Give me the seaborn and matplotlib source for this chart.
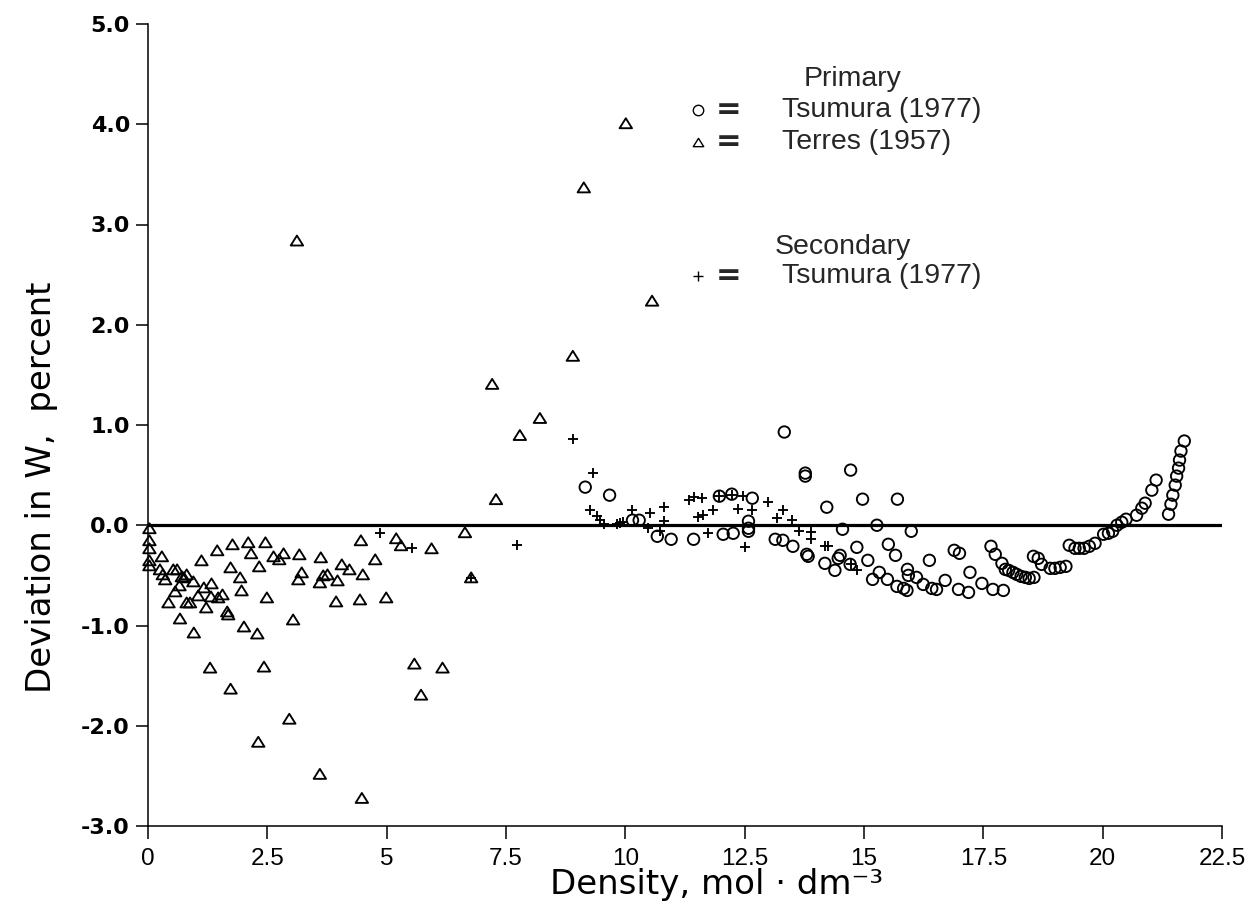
import matplotlib
matplotlib.use("Agg")
import matplotlib.pyplot as plt
from matplotlib.lines import Line2D
from matplotlib.path import Path
import seaborn as sns

# Primary data: Tsumura (1977)
tsumura_x = [9.16, 9.67, 10.15, 10.29, 10.67, 10.96, 11.43, 12.05, 12.26, 11.97,
             12.23, 12.66, 12.58, 12.58, 12.58, 13.33, 13.77, 13.77, 13.14, 13.30,
             13.51, 13.80, 13.83, 14.72, 14.22, 14.97, 15.70, 15.27, 14.55, 15.99,
             14.18, 14.39, 14.50, 14.46, 14.85, 15.08, 14.71, 15.18, 15.32, 15.49,
             15.51, 15.66, 15.69, 15.83, 15.90, 15.91, 15.93, 16.10, 16.24, 16.37,
             16.42, 16.52, 16.70, 16.89, 17.00, 16.98, 17.19, 17.22, 17.47, 17.66,
             17.75, 17.70, 17.92, 17.89, 17.96, 18.03, 18.12, 18.20, 18.29, 18.38,
             18.46, 18.56, 18.55, 18.65, 18.72, 18.90, 19.00, 19.11, 19.23, 19.30,
             19.42, 19.51, 19.61, 19.72, 19.84, 20.02, 20.12, 20.21, 20.30, 20.40,
             20.49, 20.71, 20.82, 20.89, 21.03, 21.12, 21.38, 21.43, 21.47, 21.52,
             21.55, 21.59, 21.61, 21.64, 21.71]
tsumura_y = [0.38, 0.30, 0.05, 0.05, -0.11, -0.14, -0.14, -0.09, -0.08, 0.29,
             0.31, 0.27, 0.04, -0.03, -0.06, 0.93, 0.52, 0.49, -0.14, -0.15,
             -0.21, -0.29, -0.31, 0.55, 0.18, 0.26, 0.26, 0.00, -0.04, -0.06,
             -0.38, -0.45, -0.30, -0.33, -0.22, -0.35, -0.39, -0.54, -0.47, -0.54,
             -0.19, -0.30, -0.61, -0.63, -0.65, -0.44, -0.50, -0.52, -0.59, -0.35,
             -0.63, -0.64, -0.55, -0.25, -0.28, -0.64, -0.67, -0.47, -0.58, -0.21,
             -0.29, -0.64, -0.65, -0.38, -0.44, -0.45, -0.47, -0.49, -0.51, -0.52,
             -0.53, -0.52, -0.31, -0.33, -0.39, -0.43, -0.43, -0.42, -0.41, -0.20,
             -0.23, -0.23, -0.23, -0.21, -0.18, -0.09, -0.08, -0.06, 0.00, 0.03,
             0.06, 0.10, 0.17, 0.22, 0.35, 0.45, 0.11, 0.21, 0.30, 0.40,
             0.49, 0.57, 0.65, 0.74, 0.84]

# Primary data: Terres (1957)
terres_x = [0.03, 0.03, 0.03, 0.03, 0.03, 0.29, 0.25, 0.31, 0.36, 0.53,
            0.61, 0.71, 0.81, 0.75, 0.95, 1.12, 0.66, 0.57, 0.43, 0.81,
            0.88, 0.67, 0.96, 1.17, 1.05, 1.33, 1.32, 1.22, 1.45, 1.47,
            1.56, 1.66, 1.68, 1.30, 1.73, 1.77, 1.93, 1.96, 2.01, 1.73,
            2.10, 2.16, 2.33, 2.46, 2.49, 2.29, 2.43, 2.31, 2.63, 2.75,
            2.84, 3.17, 3.22, 3.15, 3.04, 2.96, 3.62, 3.60, 3.67, 3.76,
            3.60, 3.97, 3.94, 4.06, 4.22, 4.50, 4.44, 4.46, 4.48, 4.76,
            4.99, 5.20, 5.30, 5.58, 5.72, 5.94, 6.17, 6.64, 6.77, 7.29,
            7.21, 7.79, 8.21, 8.90, 9.13, 10.01, 10.56, 3.12]
terres_y = [-0.03, -0.15, -0.23, -0.35, -0.40, -0.31, -0.44, -0.49, -0.54, -0.44,
            -0.44, -0.51, -0.49, -0.52, -0.56, -0.35, -0.60, -0.66, -0.77, -0.77,
            -0.77, -0.93, -1.07, -0.62, -0.70, -0.58, -0.71, -0.82, -0.25, -0.72,
            -0.69, -0.86, -0.89, -1.42, -0.42, -0.19, -0.52, -0.65, -1.01, -1.63,
            -0.17, -0.28, -0.41, -0.17, -0.72, -1.08, -1.41, -2.16, -0.31, -0.34,
            -0.28, -0.29, -0.47, -0.54, -0.94, -1.93, -0.32, -0.57, -0.50, -0.49,
            -2.48, -0.55, -0.76, -0.39, -0.44, -0.49, -0.74, -0.15, -2.72, -0.34,
            -0.72, -0.13, -0.20, -1.38, -1.69, -0.23, -1.42, -0.07, -0.52, 0.26,
            1.41, 0.90, 1.07, 1.69, 3.37, 4.01, 2.24, 2.84]

# Secondary data: Tsumura (1977)
second_x = [4.85, 5.54, 6.77, 7.72, 8.91, 9.33, 9.26, 9.40, 9.47, 9.55,
            9.82, 9.89, 9.95, 10.13, 10.52, 10.48, 10.82, 10.81, 10.73, 11.34,
            11.43, 11.60, 11.53, 11.62, 11.84, 11.74, 11.97, 12.23, 12.47, 12.37,
            12.65, 12.51, 12.98, 13.30, 13.17, 13.50, 13.63, 13.89, 13.89, 14.18,
            14.25, 14.72, 14.85]
second_y = [-0.08, -0.23, -0.53, -0.20, 0.86, 0.52, 0.15, 0.09, 0.05, 0.01,
            0.01, 0.02, 0.03, 0.15, 0.12, -0.03, 0.18, 0.04, -0.06, 0.25,
            0.28, 0.27, 0.08, 0.10, 0.15, -0.08, 0.29, 0.30, 0.29, 0.16,
            0.15, -0.22, 0.23, 0.15, 0.07, 0.05, -0.06, -0.07, -0.14, -0.21,
            -0.21, -0.39, -0.45]

x_ticks = [0, 2.5, 5, 7.5, 10, 12.5, 15, 17.5, 20, 22.5]
x_tick_labels = ["0", "2.5", "5", "7.5", "10", "12.5", "15", "17.5", "20", "22.5"]
y_ticks = [5, 4, 3, 2, 1, 0, -1, -2, -3]
y_tick_labels = ["5.0", "4.0", "3.0", "2.0", "1.0", "0.0", "-1.0", "-2.0", "-3.0"]

sns.set_style("ticks")
plt.rcParams["font.family"] = ["DejaVu Sans"]

W, H = 1260, 917
fig = plt.figure(figsize=(W / 100, H / 100), dpi=100)
fig.patch.set_facecolor("white")


def fx(px):
    return px / W


def fy(py):
    return 1 - py / H


ax = fig.add_axes([fx(148), fy(826), fx(1222) - fx(148), fy(24) - fy(826)])
ax.set_facecolor("white")

# open triangle, a little wider than tall
tri = Path([(0, 0.8), (-1, -0.8), (1, -0.8), (0, 0.8)],
           [Path.MOVETO, Path.LINETO, Path.LINETO, Path.CLOSEPOLY])

ax.axhline(0, color="black", lw=2.3, zorder=2)

sns.scatterplot(x=terres_x, y=terres_y, ax=ax, marker=tri, s=80,
                facecolor="none", edgecolor="black", linewidth=1.35,
                clip_on=False, zorder=3)
sns.scatterplot(x=tsumura_x, y=tsumura_y, ax=ax, marker="o", s=68,
                facecolor="none", edgecolor="black", linewidth=1.35,
                clip_on=False, zorder=3)
sns.scatterplot(x=second_x, y=second_y, ax=ax, marker="+", s=58,
                color="black", linewidth=1.35, clip_on=False, zorder=4)

ax.set_xlim(0, 22.5)
ax.set_ylim(-3, 5)
sns.despine(ax=ax)
for side in ("left", "bottom"):
    ax.spines[side].set_linewidth(1.1)
    ax.spines[side].set_color("black")

ax.set_xticks(x_ticks)
ax.set_xticklabels(x_tick_labels, fontsize=17.5, family=["Liberation Sans"])
ax.set_yticks(y_ticks)
ax.set_yticklabels(y_tick_labels, fontsize=16, fontweight="bold",
                   family=["DejaVu Sans"])
ax.tick_params(axis="both", direction="out", length=9, width=1.1,
               color="black", labelcolor="black")
ax.tick_params(axis="x", pad=7)
ax.tick_params(axis="y", pad=4)

ax.set_xlabel("Density, mol · dm\u207b\u00b3", fontsize=24.5, color="black")
ax.xaxis.set_label_coords(0.529, -0.052)
ax.set_ylabel("Deviation in W,  percent", fontsize=24.5, color="black")
ax.yaxis.set_label_coords(-0.084, 0.422)

# key
leg_font = ["Liberation Sans", "DejaVu Sans"]
fig.text(fx(853), fy(79), "Primary", fontsize=20.5, family=leg_font,
         ha="center", va="center")
rows = [(110, "o", "Tsumura (1977)"), (142, tri, "Terres (1957)"),
        (276, "+", "Tsumura (1977)")]
for py, mk, label in rows:
    if mk == "+":
        fig.add_artist(Line2D([fx(698)], [fy(py)], marker="+", markersize=7,
                              color="black", mew=1.0, ls="none"))
    else:
        fig.add_artist(Line2D([fx(698)], [fy(py)], marker=mk, markersize=7.5,
                              mfc="none", mec="black", mew=1.0, ls="none"))
    fig.text(fx(729), fy(py), "=", fontsize=22, fontweight="bold",
             ha="center", va="center")
    fig.text(fx(782), fy(py), label, fontsize=20.5, family=leg_font,
             ha="left", va="center")
fig.text(fx(775), fy(247), "Secondary", fontsize=20.5, family=leg_font,
         ha="left", va="center")

fig.savefig("out.png", dpi=100, facecolor="white")
